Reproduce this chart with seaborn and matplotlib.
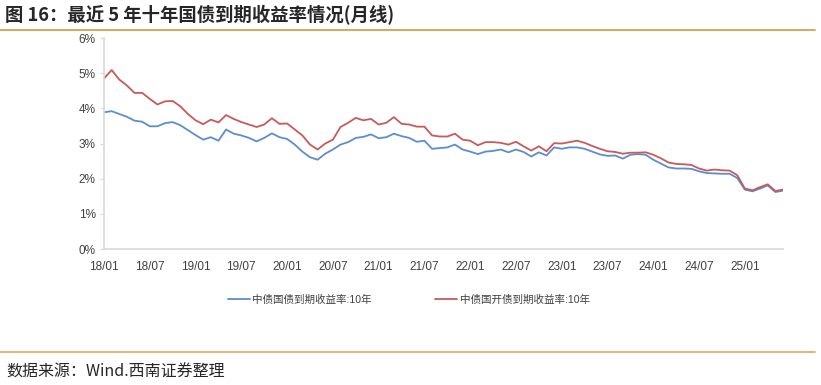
import pandas as pd
import numpy as np
import seaborn as sns
import matplotlib.pyplot as plt
from matplotlib.lines import Line2D

# monthly 10y yields, 2018/01 .. 2025/06 (%)
gov_10y = [3.89, 3.92, 3.84, 3.76, 3.65, 3.62, 3.49, 3.49, 3.58, 3.61, 3.52, 3.38,
           3.24, 3.11, 3.18, 3.08, 3.40, 3.28, 3.23, 3.16, 3.06, 3.16, 3.29, 3.18,
           3.13, 2.97, 2.77, 2.61, 2.54, 2.71, 2.83, 2.97, 3.04, 3.16, 3.19, 3.26,
           3.15, 3.18, 3.28, 3.21, 3.16, 3.05, 3.08, 2.85, 2.87, 2.89, 2.97, 2.83,
           2.77, 2.70, 2.77, 2.79, 2.83, 2.75, 2.83, 2.76, 2.63, 2.75, 2.66, 2.89,
           2.85, 2.89, 2.89, 2.85, 2.77, 2.69, 2.65, 2.66, 2.57, 2.68, 2.70, 2.68,
           2.54, 2.43, 2.32, 2.29, 2.29, 2.28, 2.21, 2.16, 2.15, 2.14, 2.14, 2.02,
           1.69, 1.64, 1.72, 1.81, 1.62, 1.66]
cdb_10y = [4.85, 5.09, 4.82, 4.65, 4.44, 4.44, 4.27, 4.11, 4.20, 4.21, 4.06, 3.84,
           3.66, 3.55, 3.68, 3.60, 3.81, 3.70, 3.61, 3.54, 3.47, 3.54, 3.72, 3.56,
           3.57, 3.40, 3.23, 2.97, 2.83, 3.00, 3.11, 3.47, 3.59, 3.73, 3.66, 3.70,
           3.54, 3.59, 3.75, 3.56, 3.54, 3.48, 3.48, 3.23, 3.20, 3.20, 3.28, 3.11,
           3.08, 2.95, 3.04, 3.04, 3.02, 2.97, 3.05, 2.92, 2.80, 2.92, 2.78, 3.01,
           3.00, 3.04, 3.08, 3.02, 2.93, 2.85, 2.78, 2.76, 2.71, 2.74, 2.74, 2.75,
           2.68, 2.58, 2.46, 2.42, 2.41, 2.39, 2.29, 2.23, 2.26, 2.24, 2.23, 2.10,
           1.72, 1.67, 1.76, 1.84, 1.65, 1.69]
series_names = ['中债国债到期收益率:10年', '中债国开债到期收益率:10年']
tick_labels = ['18/01', '18/07', '19/01', '19/07', '20/01', '20/07', '21/01', '21/07',
               '22/01', '22/07', '23/01', '23/07', '24/01', '24/07', '25/01']
y_ticks = [0, 1, 2, 3, 4, 5, 6]

months = np.arange(len(gov_10y))
df = pd.DataFrame({
    'month': np.concatenate([months, months]),
    'yield': gov_10y + cdb_10y,
    'series': [series_names[0]] * len(gov_10y) + [series_names[1]] * len(cdb_10y),
})

sns.set_style('white')
plt.rcParams['font.family'] = ['Liberation Sans', 'Noto Sans CJK SC', 'DejaVu Sans']

colors = ['#5B8DD0', '#C9595A']
fig = plt.figure(figsize=(8.21, 3.85), dpi=100)
ax = fig.add_axes([0.1267, 0.3532, 0.827, 0.548])

sns.lineplot(data=df, x='month', y='yield', hue='series', palette=colors,
             linewidth=1.3, ax=ax, legend=False)

ax.set_xlim(0, len(gov_10y) - 1)
ax.set_ylim(0, 6)
ax.set_yticks(y_ticks)
ax.set_yticklabels([f'{t}%' for t in y_ticks])
ax.set_xticks(np.arange(0, 6 * len(tick_labels), 6))
ax.set_xticklabels(tick_labels)
ax.set_xlabel('')
ax.set_ylabel('')
for s in ['top', 'right']:
    ax.spines[s].set_visible(False)
for s in ['left', 'bottom']:
    ax.spines[s].set_color('#D9D9D9')
    ax.spines[s].set_linewidth(1.2)
ax.tick_params(axis='y', left=True, length=3, color='#D9D9D9', labelsize=8.5,
               labelcolor='#404040', pad=3)
ax.tick_params(axis='x', bottom=False, labelsize=8.5, labelcolor='#404040', pad=5)

handles = [Line2D([0], [0], color=c, lw=1.3) for c in colors]
fig.legend(handles, series_names, loc='center', bbox_to_anchor=(0.498, 0.222), ncol=2,
           frameon=False, fontsize=7.6, handlelength=2.1, handletextpad=0.2,
           columnspacing=6.0, labelcolor='#404040')

# title, rules and source note
fig.text(0.006, 0.962, '图 16：最近 5 年十年国债到期收益率情况(月线)', fontsize=13.2,
         fontweight='bold', va='center', ha='left',
         family=['Noto Sans CJK SC', 'DejaVu Sans'])
fig.add_artist(Line2D([0.0, 0.993], [0.922, 0.922], color='#D4A050', lw=1.3))
fig.add_artist(Line2D([0.0, 0.993], [0.086, 0.086], color='#D9B36E', lw=1.3))
fig.text(0.008, 0.033, '数据来源：Wind.西南证券整理', fontsize=11.5, style='italic',
         va='center', ha='left', family=['Noto Sans CJK SC', 'DejaVu Sans'])

fig.savefig('out.png', dpi=100)
